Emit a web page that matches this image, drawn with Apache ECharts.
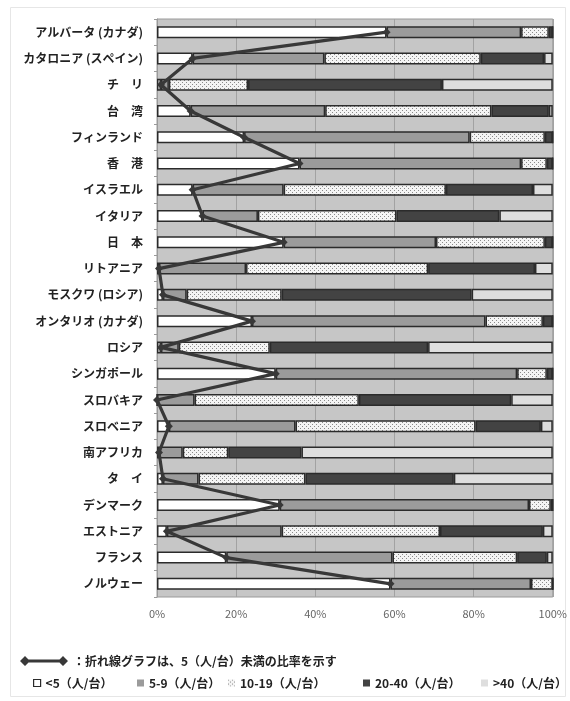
<!DOCTYPE html>
<html>
<head>
<meta charset="utf-8">
<script src="https://cdn.jsdelivr.net/npm/echarts@6/dist/echarts.min.js"></script>
<style>
html,body{margin:0;padding:0;background:#fff;}
#chart{width:570px;height:701px;}
</style>
</head>
<body>
<div id="chart"></div>
<script>
// Regions, top to bottom
const categories = ['アルバータ (カナダ)', 'カタロニア (スペイン)', 'チ　リ', '台　湾', 'フィンランド', '香　港',
  'イスラエル', 'イタリア', '日　本', 'リトアニア', 'モスクワ (ロシア)', 'オンタリオ (カナダ)', 'ロシア',
  'シンガポール', 'スロバキア', 'スロベニア', '南アフリカ', 'タ　イ', 'デンマーク', 'エストニア', 'フランス', 'ノルウェー'];

// Share (%) of each band of persons per unit
const under5   = [58, 9, 1, 8.5, 22, 36, 9, 11.5, 32, 0.5, 1.5, 24, 1, 30, 0, 3, 0.5, 1.5, 31, 2.5, 17.5, 59];
const from5to9 = [34, 33.3, 2, 34, 57, 56, 23, 14, 38.5, 22, 6, 59, 4.5, 61, 9.5, 32, 6, 9, 63, 29, 42, 35.5];
const from10to19 = [7, 39.5, 20, 42, 19, 6.5, 41, 35, 27.5, 46, 24, 14.5, 23, 7.5, 41.5, 45.5, 11.5, 27, 5.5, 40, 31.5, 5.5];
const from20to40 = [1, 16, 49, 14.5, 2, 1.5, 22, 26, 2, 27, 48, 2.5, 40, 1.5, 38.5, 16.5, 18.5, 37.5, 0.5, 26, 7.5, 0];
const over40   = [0, 2.2, 28, 1, 0, 0, 5, 13.5, 0, 4.5, 20.5, 0, 31.5, 0, 10.5, 3, 63.5, 25, 0, 2.5, 1.5, 0];

const seriesNames = ['<5（人/台）', '5-9（人/台）', '10-19（人/台）', '20-40（人/台）', '>40（人/台）'];
const lineName = '：折れ線グラフは、5（人/台）未満の比率を示す';
const xTicks = [0, 20, 40, 60, 80, 100];

// small dotted tile for the 10-19 band
const tile = document.createElement('canvas');
tile.width = 4; tile.height = 4;
const tc = tile.getContext('2d');
tc.fillStyle = '#f4f4f4'; tc.fillRect(0, 0, 4, 4);
tc.fillStyle = '#8a8a8a';
tc.fillRect(0, 0, 1, 1); tc.fillRect(2, 2, 1, 1);

const fills = ['#ffffff', '#9b9b9b', {image: tile, repeat: 'repeat'}, '#434343', '#dedede'];
const values = [under5, from5to9, from10to19, from20to40, over40];

const font = '"Noto Sans CJK JP", "Noto Sans", sans-serif';

const barSeries = seriesNames.map((name, i) => ({
  name: name,
  type: 'bar',
  stack: 'all',
  barWidth: 12,
  data: values[i],
  itemStyle: {color: fills[i], borderColor: '#2b2b2b', borderWidth: 1.5},
  emphasis: {disabled: true}
}));

const legendLeft = [33, 137, 228, 363, 481];

const chart = echarts.init(document.getElementById('chart'), null, {renderer: 'canvas'});
chart.setOption({
  animation: false,
  textStyle: {fontFamily: font},
  grid: {left: 157, right: 14, top: 19, bottom: 104, show: true,
         backgroundColor: '#c6c6c6', borderColor: '#9a9a9a', borderWidth: 1},
  xAxis: {
    type: 'value', min: xTicks[0], max: xTicks[xTicks.length - 1], interval: 20,
    axisLine: {show: false}, axisTick: {show: false},
    splitLine: {lineStyle: {color: '#a2a2a2', width: 1}},
    axisLabel: {formatter: '{value}%', color: '#666', fontSize: 11, margin: 11, fontFamily: font}
  },
  yAxis: {
    type: 'category', data: categories, inverse: true,
    axisLine: {show: true, lineStyle: {color: '#9a9a9a'}},
    axisTick: {show: true, length: 3, lineStyle: {color: '#9a9a9a'}},
    axisLabel: {color: '#222', fontSize: 12, fontWeight: 'bold', margin: 14, fontFamily: font}
  },
  legend: [
    {
      data: [lineName], left: 20, top: 655, padding: 0,
      itemWidth: 48, itemHeight: 10,
      icon: 'path://M0,5L5,0L10,5L5,10ZM38,5L43,0L48,5L43,10ZM8,3.5L40,3.5L40,6.5L8,6.5Z',
      textStyle: {color: '#222', fontSize: 12, fontWeight: 'bold', fontFamily: font},
      selectedMode: false
    }
  ].concat(seriesNames.map((n, i) => ({
    data: [n], left: legendLeft[i], top: 677, padding: 0,
    itemWidth: 7, itemHeight: 7, icon: 'rect',
    itemStyle: i === 0 ? {borderColor: '#2b2b2b', borderWidth: 1.2} : {borderWidth: 0},
    textStyle: {color: '#222', fontSize: 12, fontWeight: 'bold', fontFamily: font},
    selectedMode: false
  }))),
  graphic: [{
    type: 'rect', silent: true, z: -1,
    shape: {x: 10.5, y: 7.5, width: 555, height: 689},
    style: {fill: 'none', stroke: '#e6e6e6', lineWidth: 1}
  }],
  series: barSeries.concat([{
    name: lineName,
    type: 'line',
    data: under5,
    z: 5,
    symbol: 'diamond',
    symbolSize: 8,
    lineStyle: {color: '#383838', width: 3.2},
    itemStyle: {color: '#383838'},
    emphasis: {disabled: true}
  }])
});
</script>
</body>
</html>
